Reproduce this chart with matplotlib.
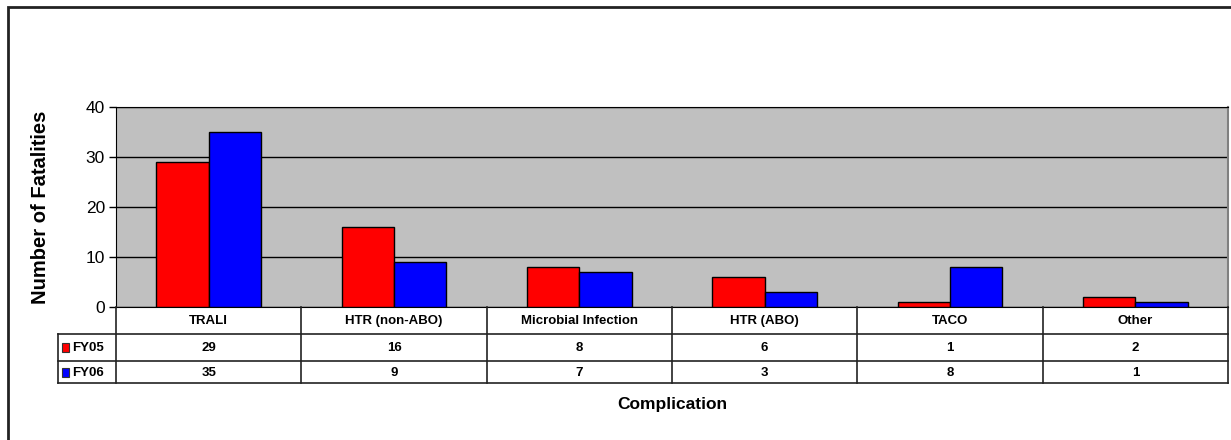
import matplotlib
matplotlib.use("Agg")
import matplotlib.pyplot as plt
from matplotlib.patches import Rectangle

categories = ["TRALI", "HTR (non-ABO)", "Microbial Infection", "HTR (ABO)", "TACO", "Other"]
fy05 = [29, 16, 8, 6, 1, 2]
fy06 = [35, 9, 7, 3, 8, 1]
series_names = ["FY05", "FY06"]
colors = ["#FF0000", "#0000FF"]
y_ticks = [0, 10, 20, 30, 40]

W, H = 1231, 440
plt.rcParams['font.family'] = ['Liberation Sans', 'DejaVu Sans']
fig = plt.figure(figsize=(W / 100, H / 100), dpi=100)

# outer chart border
fig.patches.append(Rectangle((8 / W, -0.1), 1.1, (H - 7) / H + 0.1, transform=fig.transFigure,
                             fill=False, edgecolor="#222222", linewidth=2.0))

left, right, top, bottom = 116, 1228, 107, 307
ax = fig.add_axes([left / W, (H - bottom) / H, (right - left) / W, (bottom - top) / H])
ax.set_facecolor("#C0C0C0")
n = len(categories)
bw = 0.283
xs = list(range(n))
ax.bar([i + 0.5 - bw for i in xs], fy05, width=bw, align="edge", color=colors[0],
       edgecolor="black", linewidth=1.0, zorder=3)
ax.bar([i + 0.5 for i in xs], fy06, width=bw, align="edge", color=colors[1],
       edgecolor="black", linewidth=1.0, zorder=3)
ax.set_xlim(0, n)
ax.set_ylim(0, 40)
ax.set_yticks(y_ticks)
ax.set_yticklabels([str(t) for t in y_ticks], fontsize=12.5)
ax.tick_params(axis="y", direction="out", length=5, width=1, pad=3)
ax.set_xticks([])
ax.yaxis.grid(True, color="black", linewidth=1.0, zorder=1)
ax.set_axisbelow(True)
for s in ["left", "bottom", "top"]:
    ax.spines[s].set_color("black")
ax.spines["right"].set_color("#808080")
ax.spines["right"].set_linewidth(1.5)
ax.set_ylabel("Number of Fatalities", fontsize=14.5, fontweight="bold")
ax.yaxis.set_label_coords(-(left - 50) / (right - left), 0.5)

# data table
tl, tr, ttop, tbot = 58, 1228, 307, 383
tax = fig.add_axes([tl / W, (H - tbot) / H, (tr - tl) / W, (tbot - ttop) / H])
tax.set_xlim(tl, tr)
tax.set_ylim(tbot, ttop)
tax.axis("off")
row_y = [307, 334, 361, 383]
colw = (right - left) / n
lc = "#222222"
for yy in row_y[1:]:
    tax.plot([tl, tr], [yy, yy], color=lc, lw=1.2, clip_on=False)
for i in range(n + 1):
    x = left + i * colw
    tax.plot([x, x], [307, 383], color=lc, lw=1.2, clip_on=False)
tax.plot([tl, tl], [334, 383], color=lc, lw=1.2, clip_on=False)

for i, c in enumerate(categories):
    cx = left + (i + 0.5) * colw
    tax.text(cx, (row_y[0] + row_y[1]) / 2 + 0.5, c, ha="center", va="center",
             fontsize=9.5, fontweight="bold")
    tax.text(cx, (row_y[1] + row_y[2]) / 2 + 0.5, str(fy05[i]), ha="center", va="center",
             fontsize=9.5, fontweight="bold")
    tax.text(cx, (row_y[2] + row_y[3]) / 2 + 0.5, str(fy06[i]), ha="center", va="center",
             fontsize=9.5, fontweight="bold")

for k, (name, col) in enumerate(zip(series_names, colors)):
    ymid = (row_y[k + 1] + row_y[k + 2]) / 2
    tax.add_patch(Rectangle((62, ymid - 4.5), 7, 9, facecolor=col, edgecolor="#333333",
                            lw=0.8, clip_on=False))
    tax.text(72, ymid + 0.5, name, ha="left", va="center", fontsize=9.5, fontweight="bold")

fig.text(672 / W, 1 - 404 / H, "Complication", ha="center", va="center",
         fontsize=12.5, fontweight="bold")

fig.savefig("out.png", dpi=100)
